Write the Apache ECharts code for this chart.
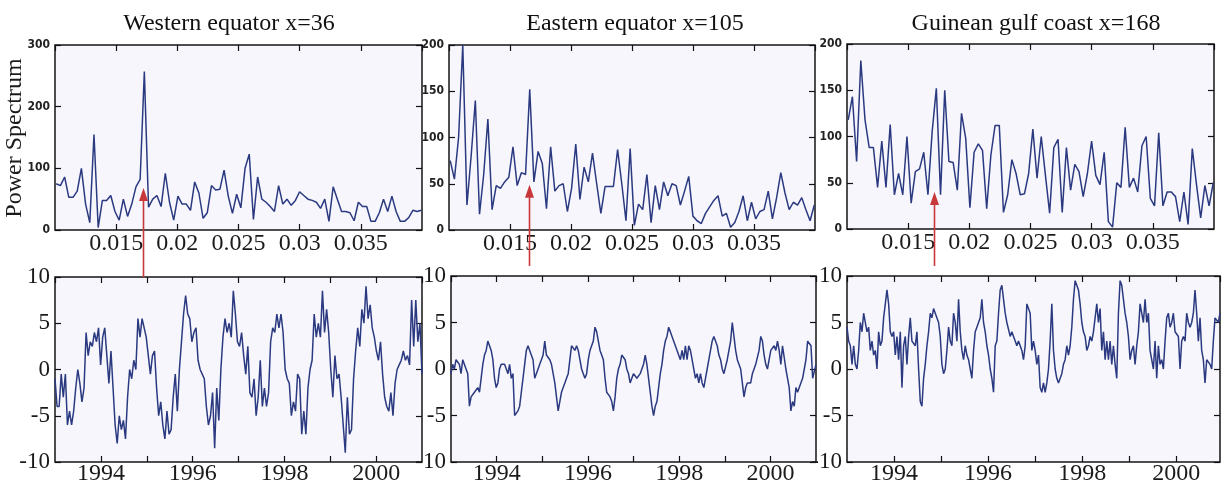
<!DOCTYPE html>
<html>
<head>
<meta charset="utf-8">
<script src="https://cdn.jsdelivr.net/npm/echarts@6/dist/echarts.min.js"></script>
<style>
  html, body { margin: 0; padding: 0; background: #fff; }
  #main { width: 1223px; height: 499px; }
</style>
</head>
<body>
<div id="main"></div>
<script>
// panel titles
var titles = ['Western equator x=36', 'Eastern equator x=105', 'Guinean gulf coast x=168'];

// power spectra, sampled on a regular frequency grid
var specFreqStart = 0.0101;
var specFreqStep = 0.000343;
var specWest = [75,72,86,53,53,63,100,42,12,155, 4,48,48,56,30,16,50,22,42,70,
  82,257,37,50,56,38,92,45,16,55, 42,42,32,78,60,19,28,72,65,66,
  97,55,27,58,36,100,123,17,86,50, 45,38,30,72,42,50,40,48,62,56,
  50,48,45,35,50,14,70,50,30,30, 28,15,45,38,38,14,14,28,50,30,
  55,30,14,14,20,32,30,32];
var specEast = [75,55,100,200,27,80,140,17,60,120, 22,48,45,52,57,90,48,62,60,152,
  52,85,72,23,90,42,48,50,20,45, 93,33,68,52,83,50,18,47,47,47,
  87,50,10,88,5,28,22,60,8,48, 22,52,37,50,48,27,42,58,15,10,
  7,18,25,32,37,15,18,3,8,20, 37,10,30,12,20,22,42,12,35,62,
  40,22,30,27,35,22,10,27];
var specGuinea = [118,143,73,182,118,88,88,45,95,45, 113,37,60,37,100,28,62,65,83,37,
  105,152,37,150,73,72,42,125,98,23, 83,92,85,22,80,112,112,18,37,75,
  60,37,38,60,108,55,100,58,17,88, 97,18,88,42,70,62,35,60,95,58,
  48,83,8,2,50,45,110,45,55,40, 90,100,33,25,104,25,40,40,35,8,
  40,5,87,48,12,47,25,50];
var specMax = [300, 200, 200];
var specTick = [100, 50, 50];

// time series 1993 - 2001, regularly sampled
var tStart = 1993;
var tEnd = [2001, 2001, 2000.93];
var sstWest = [-1,-4,-4,-0.5,-3,-0.5,-6,-4.5,-6,-4.5,
  -2,0,-1.5,-3.5,-2,4,1.5,3,2.5,4,
  3,4.5,0.5,3.5,4.5,1.5,-1.5,2,-2,-6,
  -8,-5,-6.5,-5.5,-7.5,-3,0,-1,1,0,
  5.5,3.5,5.5,4.5,3.5,1.5,-0.5,1.5,2,-2,
  -5,-3.5,-6,-7.5,-4.5,-7,-6.5,-3,-0.5,-4.5,
  0,3,6,8,6,5.5,3,4,4.5,1,
  0,-0.5,-1,-4,-6,-5,-2.5,-8.5,-2,-5.5,
  0,3.5,5.5,4,5,3.5,8.5,6,3,2.5,
  4,1.5,-0.5,2.5,-2.5,-3,-1,-5,-3,1,
  -4,-2,-4,-2.5,3,4.5,4,6,4.5,6,
  4,0,-1,-1.5,-5,-3.5,-4.5,-0.5,-1,-7,
  -4.5,-7,-2,0,1,6,3.5,5,3.5,8.5,
  4,6.5,4,0,-3,1.5,-1,-0.5,-3,-6,
  -9,-3,-7,-6.5,-1,2,4.5,2.5,6.5,5,
  9,5.5,7,4.5,3.5,2,1,3,-0.5,-3,
  -4,-4.5,-2.5,-5,-1.5,0,0.5,1,2,1,
  1.5,0.5,7.5,2.5,7.5,3,5,-0.5];
var sstEast = [-0.5,0.5,0,1,1,0.5,-0.5,1,1,0,
  -0.5,-4,-3,-3,-2.5,-2.5,-2,-2.5,-1,0.5,
  1.5,2,3,2.5,2,1,-1,-2,-1.5,0,
  0.5,0.5,0.5,0.5,-0.5,0.5,-1,-0.5,-5,-5,
  -4.5,-4,-2.5,-1,0.5,2,2.5,2,2,1,
  -1,-1,0,0.5,1,1.5,3,1.5,1.5,1,
  0.5,-0.5,-1.5,-3,-4.5,-3.5,-2.5,-2,-1.5,-1,
  -0.5,1,2.5,2.5,2,2.5,2,1,0,-0.5,
  -1,-0.5,1,2,2.5,3,4.5,4,3,2,
  1.5,1,-1,-2.5,-2.5,-3,-3.5,-4.5,-3,-1,
  0,0.5,1.5,1.5,1,0,-0.5,-1.5,-1,-0.5,
  -0.5,-1,-1,-0.5,0,0.5,1.5,0.5,-1,-2.5,
  -4,-5,-4,-3.5,-2,-0.5,0.5,2,3,3.5,
  4.5,4,3.5,3.5,2.5,2,2,1,2,1,
  2.5,1,2.5,2,1,0,-1,-0.5,-1.5,-0.5,
  -1.5,-2,-1,0,1,2,3,3.5,3.5,2.5,
  1.5,1,0,-0.5,-0.5,1,2,3,5,3.5,
  2,1,1,0,-1.5,-3,-2,-1.5,-1.5,-1.5,
  -0.5,0,0.5,0.5,2,3.5,3,1.5,0.5,0,
  1,2,2,2.5,2,3,2,0.5,2.5,2.5,
  0,-1,-2,-4.5,-3.5,-4,-2,-2.5,-2,-2,
  -1,0,1,3,3,2.5,-1,-1,0.5];
var sstGuinea = [4.5,3,2.5,0.5,2.5,0.5,0,2,5,4,
  6,6,4,4.5,2,3,1.5,2,0,4,
  2.5,3,5.5,5.5,8.5,7,4,3.5,4,1.5,
  3.5,1,4,-2,2.5,3.5,0.5,3.5,5.5,3,
  3,2.5,4,0,-3.5,-4,-1,0.5,2.5,4,
  6,5.5,6.5,6,6,5,3.5,0.5,-0.5,0,
  2,4.5,3,2.5,6,5,3,7.5,4,2,
  1,2.5,1.5,1,0,-1,2,4,4.5,5,
  5.5,7.5,5,4,2.5,1.5,0,-1,-2.5,2.5,
  3,6,8.5,9,9,6,5,5,3.5,4,
  3.5,3,2.5,3,2.5,2,1,2.5,7,6.5,
  6,2,3,2,0.5,1.5,-2,-2.5,-1.5,-2.5,
  -1.5,0,3,7,2,0,-1,-1.5,-1.5,-0.5,
  0.5,1,2.5,1.5,2.5,4.5,7.5,9.5,9,8.5,
  7,5,4,3.5,2,2.5,3.5,3,4,4,
  7,5,6.5,2,4,1,3,1,3,0.5,
  2.5,0.5,-1,6,9.5,9,9,6,5,3.5,
  1,2,2.5,0.5,2.5,4,7,7,5,7.5,
  5,6,2,2,0,3,-1,2.5,0.5,1,
  0,3,5.5,6,4.5,5,6,4,4,3.5,
  0,3,3.5,3,6,5,4.5,5,6,8.5,
  6,3,5.5,2,1,-1.5,1,1,0.5,0,
  3,5.5,5.5,5,6];

// red arrows: frequency and power at the tip
var arrowFreq = [0.01719, 0.01656, 0.01711];
var arrowPower = [68, 49, 40];

var specs = [specWest, specEast, specGuinea];
var ssts = [sstWest, sstEast, sstGuinea];

var serif = "'Liberation Serif', 'Times New Roman', serif";
var lineColor = '#2b3a80';

var topGrids = [
  { left: 55, top: 45, width: 367, height: 185 },
  { left: 449, top: 45, width: 366, height: 185 },
  { left: 847, top: 44, width: 367, height: 185 }
];
var botGrids = [
  { left: 55, top: 277, width: 367, height: 185 },
  { left: 451, top: 276, width: 365, height: 186 },
  { left: 847, top: 276, width: 373, height: 186 }
];
var titleCenter = [229, 635, 1036];
var arrowTailY = [277, 266, 266];

var grid = [], xAxis = [], yAxis = [], series = [], title = [];

function tick() {
  return { show: true, inside: true, length: 6, lineStyle: { color: '#111', width: 1.2 } };
}
function noLine() {
  return { show: false, onZero: false };
}

function addPanel(box, xa, ya, data) {
  var g = grid.length;
  grid.push(Object.assign({
    show: true, backgroundColor: '#f6f6fc', borderColor: '#151515', borderWidth: 1.5
  }, box));
  xAxis.push(Object.assign({ gridIndex: g, type: 'value', position: 'bottom',
    axisLine: noLine(), axisTick: tick(), splitLine: { show: false } }, xa));
  xAxis.push({ gridIndex: g, type: 'value', position: 'top', min: xa.min, max: xa.max,
    interval: xa.interval, axisLine: noLine(), axisTick: tick(),
    axisLabel: { show: false }, splitLine: { show: false } });
  yAxis.push(Object.assign({ gridIndex: g, type: 'value', position: 'left',
    axisLine: noLine(), axisTick: tick(), splitLine: { show: false } }, ya));
  yAxis.push({ gridIndex: g, type: 'value', position: 'right', min: ya.min, max: ya.max,
    interval: ya.interval, axisLine: noLine(), axisTick: tick(),
    axisLabel: { show: false }, splitLine: { show: false } });
  series.push({
    type: 'line', xAxisIndex: 2 * g, yAxisIndex: 2 * g, data: data,
    showSymbol: false, animation: false, clip: true,
    lineStyle: { color: lineColor, width: 1.5 }
  });
}

for (var k = 0; k < 3; k++) {
  var sd = specs[k].map(function (v, i) { return [specFreqStart + i * specFreqStep, v]; });
  addPanel(topGrids[k], {
    min: 0.01, max: 0.04, interval: 0.005,
    axisLabel: { showMinLabel: false, showMaxLabel: false, margin: 2,
      fontFamily: serif, fontSize: 24, color: '#1a1a1a',
      formatter: function (v) { return String(+v.toFixed(3)); } }
  }, {
    min: 0, max: specMax[k], interval: specTick[k],
    axisLabel: { margin: 5, fontFamily: "'Liberation Sans Narrow', 'DejaVu Sans Condensed', sans-serif",
      fontWeight: 'bold', fontSize: 12, color: '#222' }
  }, sd);
  title.push({ text: titles[k], left: titleCenter[k], top: 12, textAlign: 'center', padding: 0,
    textStyle: { fontFamily: serif, fontSize: 24, fontWeight: 'normal', color: '#111' } });
}

for (var k = 0; k < 3; k++) {
  var arr = ssts[k];
  var step = (tEnd[k] - tStart) / (arr.length - 1);
  var td = arr.map(function (v, i) { return [tStart + i * step, v]; });
  addPanel(botGrids[k], {
    min: tStart, max: tEnd[k], interval: 1,
    axisLabel: { showMinLabel: false, showMaxLabel: false, margin: 0,
      fontFamily: serif, fontSize: 24, color: '#1a1a1a',
      formatter: function (v) { return v % 2 === 0 ? String(v) : ''; } }
  }, {
    min: -10, max: 10, interval: 5,
    axisLabel: { margin: 5, fontFamily: serif, fontSize: 23, color: '#1a1a1a' }
  }, td);
}

var chart = echarts.init(document.getElementById('main'));
chart.setOption({
  backgroundColor: '#ffffff',
  animation: false,
  title: title,
  grid: grid,
  xAxis: xAxis,
  yAxis: yAxis,
  series: series
});

// annotations: y label and red arrows
var graphics = [{
  type: 'text', x: 15, y: 138, rotation: Math.PI / 2,
  style: { text: 'Power Spectrum', font: '24px ' + serif, fill: '#1a1a1a',
    textAlign: 'center', textVerticalAlign: 'middle' }
}];
for (var k = 0; k < 3; k++) {
  var tip = chart.convertToPixel({ xAxisIndex: 2 * k, yAxisIndex: 2 * k }, [arrowFreq[k], arrowPower[k]]);
  var ax = Math.round(tip[0]) + 0.5;
  graphics.push({
    type: 'line', z: 100,
    shape: { x1: ax, y1: arrowTailY[k], x2: ax, y2: tip[1] + 8 },
    style: { stroke: '#c8383a', lineWidth: 1.6 }
  });
  graphics.push({
    type: 'polygon', z: 100,
    shape: { points: [[ax, tip[1]], [ax - 4.5, tip[1] + 13], [ax + 4.5, tip[1] + 13]] },
    style: { fill: '#c8383a' }
  });
}
chart.setOption({ graphic: graphics });
</script>
</body>
</html>
